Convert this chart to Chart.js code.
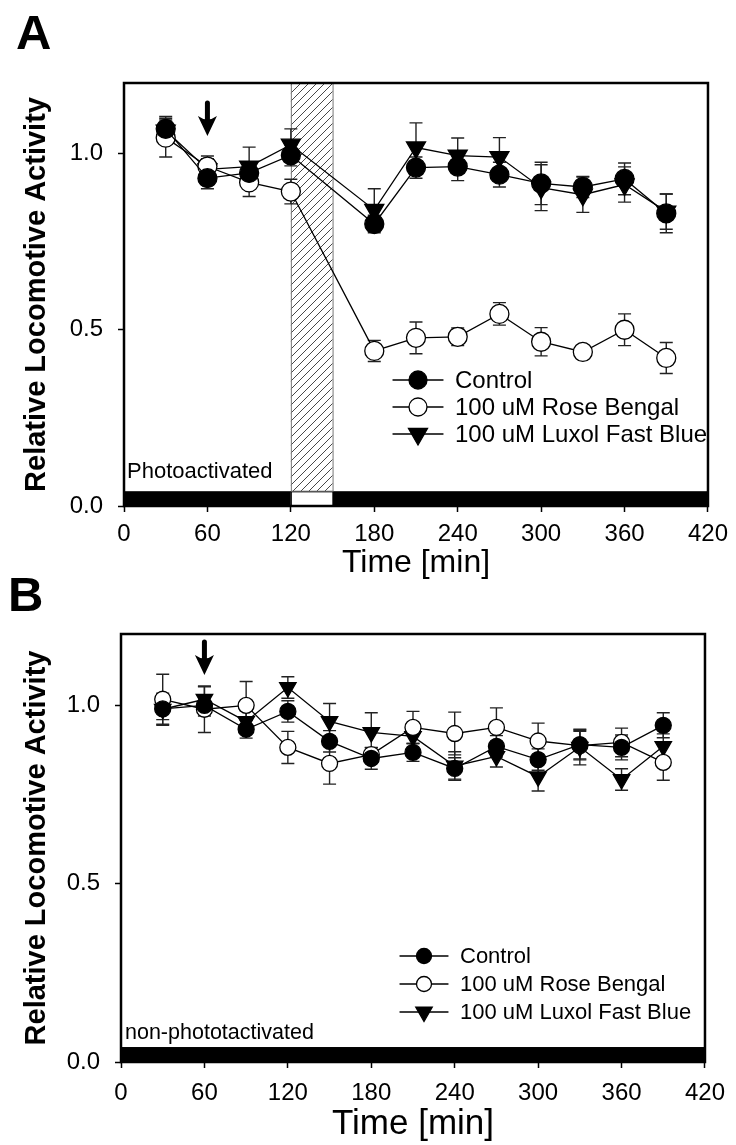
<!DOCTYPE html>
<html>
<head>
<meta charset="utf-8">
<script src="https://cdn.jsdelivr.net/npm/chart.js@4.4.1/dist/chart.umd.min.js"></script>
<style>
body{margin:0;background:#fff;width:736px;height:1145px;position:relative;overflow:hidden;font-family:"Liberation Sans",Arial,sans-serif}
canvas{position:absolute;left:0}
#chartA{top:0}
#chartB{top:593px}
.letter{position:absolute;font-weight:bold;font-size:49px;line-height:1;color:#000}
</style>
</head>
<body>
<canvas id="chartA" width="736" height="593"></canvas>
<canvas id="chartB" width="736" height="552"></canvas>
<div class="letter" style="left:16px;top:8px">A</div>
<div class="letter" style="left:8px;top:570px">B</div>
<script>
// ---- data ----
var seriesNames = ["Control", "100 uM Rose Bengal", "100 uM Luxol Fast Blue"];
var xTicks = [0, 60, 120, 180, 240, 300, 360, 420];
var yTicks = [0, 0.5, 1.0];
var arrowTime = 60;          // drug added
var lightPeriod = [120, 150]; // lights on (panel A only)

// panel A, photoactivated (no sample at 150 min)
var timesA = [30, 60, 90, 120, 180, 210, 240, 270, 300, 330, 360, 390];
var controlA    = [1.07, 0.93, 0.945, 0.995, 0.80, 0.96, 0.963, 0.94, 0.915, 0.905, 0.928, 0.83];
var controlAErr = [0.035, 0.03, 0.03, 0.03, 0.025, 0.03, 0.04, 0.035, 0.06, 0.03, 0.045, 0.055];
var roseA       = [1.045, 0.963, 0.918, 0.892, 0.44, 0.477, 0.48, 0.545, 0.466, 0.437, 0.50, 0.42];
var roseAErr    = [0.055, 0.03, 0.04, 0.035, 0.03, 0.045, 0.025, 0.032, 0.04, 0.012, 0.045, 0.044];
var luxolA      = [1.065, 0.955, 0.963, 1.025, 0.84, 1.017, 0.994, 0.99, 0.903, 0.883, 0.912, 0.835];
var luxolAErr   = [0.03, 0.03, 0.055, 0.045, 0.06, 0.07, 0.05, 0.055, 0.065, 0.05, 0.05, 0.05];

// panel B, non-photoactivated
var timesB = [30, 60, 90, 120, 150, 180, 210, 240, 270, 300, 330, 360, 390];
var controlB    = [0.99, 1.0, 0.933, 0.983, 0.899, 0.851, 0.868, 0.823, 0.885, 0.848, 0.89, 0.882, 0.944];
var controlBErr = [0.03, 0.03, 0.025, 0.03, 0.03, 0.03, 0.025, 0.03, 0.03, 0.03, 0.04, 0.035, 0.035];
var roseB       = [1.017, 0.989, 1.0, 0.882, 0.837, 0.862, 0.938, 0.921, 0.938, 0.90, 0.887, 0.896, 0.84];
var roseBErr    = [0.07, 0.065, 0.067, 0.045, 0.058, 0.02, 0.045, 0.06, 0.055, 0.05, 0.04, 0.04, 0.05];
var luxolB      = [0.989, 1.017, 0.955, 1.05, 0.955, 0.924, 0.913, 0.83, 0.857, 0.80, 0.883, 0.792, 0.885];
var luxolBErr   = [0.045, 0.035, 0.03, 0.03, 0.05, 0.055, 0.035, 0.04, 0.03, 0.04, 0.05, 0.03, 0.035];

var FONT = '"Liberation Sans", Arial, sans-serif';
var BAR_TOP = 0.042; // height of the light/dark bar in y units

function points(times, vals) {
	var out = [];
	for (var i = 0; i < times.length; i++) out.push({x: times[i], y: vals[i]});
	return out;
}

function hatch(ctx) {
	var c = document.createElement('canvas');
	c.width = 8; c.height = 8;
	var g = c.getContext('2d');
	g.strokeStyle = '#333';
	g.lineWidth = 0.9;
	g.beginPath();
	g.moveTo(0, 8); g.lineTo(8, 0);
	g.moveTo(-1, 1); g.lineTo(1, -1);
	g.moveTo(7, 9); g.lineTo(9, 7);
	g.stroke();
	return ctx.createPattern(c, 'repeat');
}

function marker(ctx, style, x, y, r, fill) {
	ctx.beginPath();
	if (style == 'triangle') {
		ctx.moveTo(x, y + r);
		ctx.lineTo(x - r * 0.866, y - r * 0.5);
		ctx.lineTo(x + r * 0.866, y - r * 0.5);
		ctx.closePath();
	} else {
		ctx.arc(x, y, r, 0, Math.PI * 2);
	}
	ctx.fillStyle = fill;
	ctx.fill();
	ctx.lineWidth = 1.3;
	ctx.strokeStyle = '#000';
	ctx.stroke();
}

// draws the bar, hatched light box, error bars, arrow, legend and frame
var decor = {
	id: 'decor',
	beforeDatasetsDraw: function(chart) {
		var o = chart.options.plugins.decor;
		var ctx = chart.ctx, a = chart.chartArea;
		var xs = chart.scales.x, ys = chart.scales.y;
		var barY = ys.getPixelForValue(BAR_TOP);
		ctx.save();
		// dark bar along the bottom
		ctx.fillStyle = '#000';
		ctx.fillRect(a.left, barY, a.right - a.left, a.bottom - barY);
		if (o.light) {
			var x0 = xs.getPixelForValue(o.light[0]), x1 = xs.getPixelForValue(o.light[1]);
			ctx.fillStyle = '#fff';
			ctx.fillRect(x0, barY + 1, x1 - x0, a.bottom - barY - 1);
			ctx.strokeStyle = '#000';
			ctx.lineWidth = 1;
			ctx.strokeRect(x0 + 0.5, barY + 0.5, x1 - x0, a.bottom - barY);
			ctx.fillStyle = hatch(ctx);
			ctx.fillRect(x0, a.top, x1 - x0, barY - a.top);
			ctx.strokeStyle = '#777';
			ctx.strokeRect(x0 + 0.5, a.top, x1 - x0, barY - a.top);
		}
		// error bars
		ctx.strokeStyle = '#222';
		ctx.lineWidth = 1.4;
		chart.data.datasets.forEach(function(ds, i) {
			var meta = chart.getDatasetMeta(i);
			ds.data.forEach(function(p, j) {
				var x = meta.data[j].x;
				var yt = ys.getPixelForValue(p.y + ds.errors[j]);
				var yb = ys.getPixelForValue(p.y - ds.errors[j]);
				ctx.beginPath();
				ctx.moveTo(x, yt); ctx.lineTo(x, yb);
				ctx.moveTo(x - o.cap, yt); ctx.lineTo(x + o.cap, yt);
				ctx.moveTo(x - o.cap, yb); ctx.lineTo(x + o.cap, yb);
				ctx.stroke();
			});
		});
		ctx.restore();
	},
	afterDatasetsDraw: function(chart) {
		var o = chart.options.plugins.decor;
		var ctx = chart.ctx, a = chart.chartArea;
		var xs = chart.scales.x;
		ctx.save();
		// arrow at drug addition
		var ax = xs.getPixelForValue(arrowTime);
		var top = a.top + o.arrow[0], tip = a.top + o.arrow[1];
		ctx.strokeStyle = '#000';
		ctx.lineWidth = 5;
		ctx.lineCap = 'round';
		ctx.beginPath();
		ctx.moveTo(ax, top); ctx.lineTo(ax, tip - 12);
		ctx.stroke();
		ctx.fillStyle = '#000';
		ctx.beginPath();
		ctx.moveTo(ax, tip);
		ctx.lineTo(ax - 9.5, tip - 20);
		ctx.quadraticCurveTo(ax, tip - 13, ax + 9.5, tip - 20);
		ctx.closePath();
		ctx.fill();
		// condition label
		ctx.font = o.labelSize + 'px ' + FONT;
		ctx.fillStyle = '#000';
		ctx.textBaseline = 'alphabetic';
		ctx.fillText(o.label, o.labelPos[0], o.labelPos[1]);
		// legend
		var L = o.legend;
		ctx.font = L.size + 'px ' + FONT;
		chart.data.datasets.forEach(function(ds, i) {
			var y = L.y + i * L.step;
			ctx.strokeStyle = '#000';
			ctx.lineWidth = 1.3;
			ctx.beginPath();
			ctx.moveTo(L.x0, y); ctx.lineTo(L.x1, y);
			ctx.stroke();
			marker(ctx, ds.pointStyle, (L.x0 + L.x1) / 2, y, ds.pointStyle == 'triangle' ? ds.pointRadius : ds.pointRadius - 0.5, ds.pointBackgroundColor);
			ctx.fillStyle = '#000';
			ctx.textBaseline = 'middle';
			ctx.fillText(ds.label, L.tx, y + 1);
		});
		// frame
		ctx.strokeStyle = '#000';
		ctx.lineWidth = 2.5;
		ctx.strokeRect(a.left, a.top, a.right - a.left, a.bottom - a.top);
		ctx.restore();
	}
};

function makeChart(id, times, sets, g) {
	var styles = [
		{pointStyle: 'circle', fill: '#000', r: g.r},
		{pointStyle: 'circle', fill: '#fff', r: g.r},
		{pointStyle: 'triangle', fill: '#000', r: g.r + 1.5}
	];
	var datasets = sets.map(function(s, i) {
		return {
			label: seriesNames[i],
			data: points(times, s[0]),
			errors: s[1],
			borderColor: '#000',
			borderWidth: 1.3,
			tension: 0,
			fill: false,
			pointStyle: styles[i].pointStyle,
			pointRotation: styles[i].pointStyle == 'triangle' ? 180 : 0,
			pointRadius: styles[i].r,
			pointBackgroundColor: styles[i].fill,
			pointBorderColor: '#000',
			pointBorderWidth: 1.3
		};
	});
	return new Chart(document.getElementById(id), {
		type: 'line',
		data: {datasets: datasets},
		plugins: [decor],
		options: {
			responsive: false,
			animation: false,
			devicePixelRatio: 1,
			layout: {padding: {top: g.top, right: g.right, left: 0, bottom: 0}},
			plugins: {
				legend: {display: false},
				tooltip: {enabled: false},
				decor: g.decor
			},
			scales: {
				x: {
					type: 'linear', min: 0, max: 420,
					afterBuildTicks: function(s) { s.ticks = xTicks.map(function(v) { return {value: v}; }); },
					afterFit: function(s) { s.height = g.xh; },
					ticks: {color: '#000', font: {family: FONT, size: 24}, padding: g.xpad, maxRotation: 0},
					grid: {drawOnChartArea: false, tickLength: 6, tickColor: '#000', tickWidth: 1.5},
					border: {display: false},
					title: {display: true, text: 'Time [min]', color: '#000', font: {family: FONT, size: g.tsize}, padding: {top: 0, bottom: g.tpad}}
				},
				y: {
					min: 0, max: 1.2,
					afterBuildTicks: function(s) { s.ticks = yTicks.map(function(v) { return {value: v}; }); },
					afterFit: function(s) { s.width = g.yw; },
					ticks: {color: '#000', font: {family: FONT, size: 24}, padding: 15, callback: function(v) { return v.toFixed(1); }},
					grid: {drawOnChartArea: false, tickLength: 6, tickColor: '#000', tickWidth: 1.5},
					border: {display: false},
					title: {display: true, text: 'Relative Locomotive Activity', color: '#000', font: {family: FONT, size: 29, weight: 'bold'}, padding: {top: 20, bottom: 0}}
				}
			}
		}
	});
}

makeChart('chartA', timesA, [[controlA, controlAErr], [roseA, roseAErr], [luxolA, luxolAErr]], {
	top: 83, right: 23, xh: 87, yw: 124, xpad: 8, tsize: 32, tpad: 11, r: 9.5,
	decor: {
		light: lightPeriod, cap: 6.5, arrow: [20, 53],
		label: 'Photoactivated', labelPos: [127, 478], labelSize: 22,
		legend: {x0: 393, x1: 443, tx: 455, y: 380, step: 27, size: 24}
	}
});

makeChart('chartB', timesB, [[controlB, controlBErr], [roseB, roseBErr], [luxolB, luxolBErr]], {
	top: 41, right: 26, xh: 83, yw: 121, xpad: 11, tsize: 35, tpad: 0, r: 8,
	decor: {
		light: null, cap: 6.5, arrow: [8, 41],
		label: 'non-phototactivated', labelPos: [125, 446], labelSize: 21.5,
		legend: {x0: 400, x1: 448, tx: 460, y: 363, step: 28, size: 22}
	}
});
</script>
</body>
</html>
